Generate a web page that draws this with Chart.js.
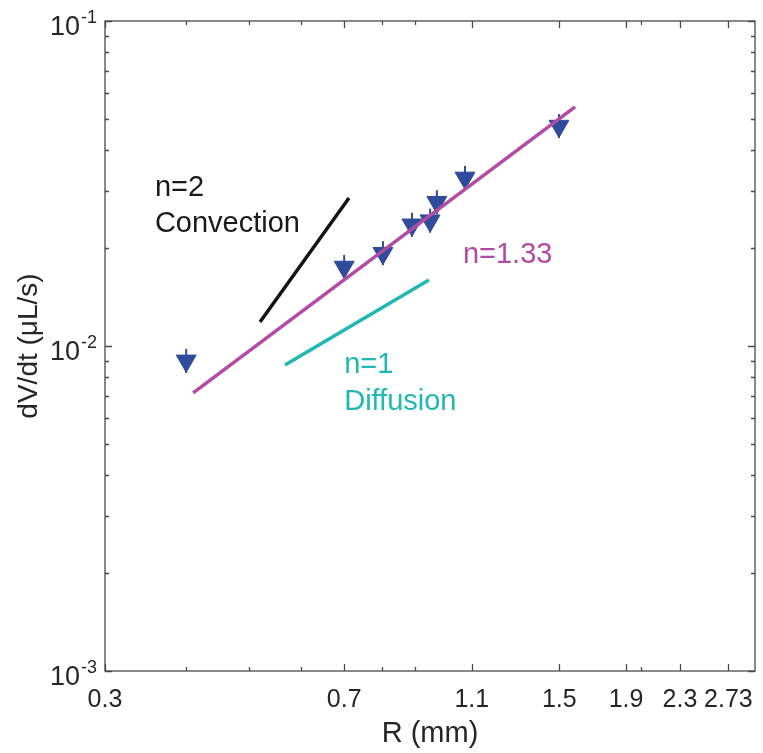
<!DOCTYPE html>
<html>
<head>
<meta charset="utf-8">
<script src="https://cdn.jsdelivr.net/npm/chart.js@4.4.1/dist/chart.umd.min.js"></script>
<style>
  body { margin: 0; background: #fff; }
  #wrap { width: 763px; height: 753px; }
</style>
</head>
<body>
<div id="wrap"><canvas id="myChart" width="763" height="753"></canvas></div>
<script>
// measured points
const radius = [0.40, 0.70, 0.803, 0.89, 0.949, 0.972, 1.074, 1.498]
const rate = [0.0090, 0.0175, 0.0193, 0.0236, 0.0243, 0.0277, 0.0329, 0.0475]

// guide lines
const fitR = [0.41, 1.586]
const fitRate = [0.00717, 0.0544]
const convR = [0.5195, 0.712]
const convRate = [0.01186, 0.02853]
const diffR = [0.5676, 0.945]
const diffRate = [0.00874, 0.01596]

// ticks
const xTickVals = [0.3, 0.7, 1.1, 1.5, 1.9, 2.3, 2.73]
const xTickLabels = ['0.3', '0.7', '1.1', '1.5', '1.9', '2.3', '2.73']
const xMinorTicks = [0.4, 0.5, 0.6, 0.8, 0.9, 2]
const yTickVals = [0.001, 0.01, 0.1]
const yTickExp = ['-3', '-2', '-1']
const yMinorTicks = [0.002, 0.003, 0.004, 0.005, 0.006, 0.007, 0.008, 0.009,
                     0.02, 0.03, 0.04, 0.05, 0.06, 0.07, 0.08, 0.09]

// annotations (anchored in data units)
const notes = [
  { text: 'n=2', x: 0.358, y: 0.02894, color: '#1a1a1a' },
  { text: 'Convection', x: 0.358, y: 0.02243, color: '#1a1a1a' },
  { text: 'n=1.33', x: 1.066, y: 0.0180, color: '#b24ca3' },
  { text: 'n=1', x: 0.70, y: 0.008258, color: '#1fb8b4' },
  { text: 'Diffusion', x: 0.70, y: 0.006354, color: '#1fb8b4' }
]

const FONT = "'Liberation Sans', Arial, Helvetica, sans-serif"
const AXIS = '#262626'
const BLUE = '#2e4b9c'

const toXY = (xs, ys) => xs.map((x, i) => ({ x: x, y: ys[i] }))

const boxPlugin = {
  id: 'box',
  afterDatasetsDraw(chart) {
    const { ctx, chartArea: a, scales: { x, y } } = chart
    ctx.save()
    ctx.strokeStyle = '#4a4a4a'
    ctx.lineWidth = 1.3
    ctx.strokeRect(a.left, a.top, a.right - a.left, a.bottom - a.top)
    // inward ticks, all four sides
    const xt = (v, len) => {
      const p = Math.round(x.getPixelForValue(v)) + 0.5
      ctx.beginPath()
      ctx.moveTo(p, a.bottom); ctx.lineTo(p, a.bottom - len)
      ctx.moveTo(p, a.top); ctx.lineTo(p, a.top + len)
      ctx.stroke()
    }
    const yt = (v, len) => {
      const p = Math.round(y.getPixelForValue(v)) + 0.5
      ctx.beginPath()
      ctx.moveTo(a.left, p); ctx.lineTo(a.left + len, p)
      ctx.moveTo(a.right, p); ctx.lineTo(a.right - len, p)
      ctx.stroke()
    }
    xTickVals.forEach(v => xt(v, 7))
    xMinorTicks.forEach(v => xt(v, 4))
    yTickVals.forEach(v => yt(v, 7))
    yMinorTicks.forEach(v => yt(v, 4))

    // y tick labels 10^k
    ctx.fillStyle = AXIS
    ctx.textBaseline = 'alphabetic'
    yTickVals.forEach((v, i) => {
      const p = y.getPixelForValue(v)
      ctx.font = '27px ' + FONT
      ctx.textAlign = 'right'
      ctx.fillText('10', 80, p + 14)
      ctx.font = '18px ' + FONT
      ctx.textAlign = 'left'
      ctx.fillText(yTickExp[i], 81, p + 2)
    })

    // text notes
    ctx.font = '29px ' + FONT
    ctx.textAlign = 'left'
    notes.forEach(n => {
      ctx.fillStyle = n.color
      ctx.fillText(n.text, x.getPixelForValue(n.x), y.getPixelForValue(n.y))
    })
    ctx.restore()
  }
}

const ctx = document.getElementById('myChart').getContext('2d')
new Chart(ctx, {
  type: 'scatter',
  data: {
    datasets: [
      {
        label: 'n=1.33',
        data: toXY(fitR, fitRate),
        showLine: true,
        borderColor: '#b24ca3',
        borderWidth: 3.5,
        pointRadius: 0,
        order: 1
      },
      {
        label: 'Convection',
        data: toXY(convR, convRate),
        showLine: true,
        borderColor: '#141414',
        borderWidth: 3.5,
        pointRadius: 0,
        order: 2
      },
      {
        label: 'Diffusion',
        data: toXY(diffR, diffRate),
        showLine: true,
        borderColor: '#1fb8b4',
        borderWidth: 3.5,
        pointRadius: 0,
        order: 3
      },
      {
        label: 'data',
        data: toXY(radius, rate),
        pointStyle: 'triangle',
        rotation: 180,
        pointRadius: 11.5,
        backgroundColor: BLUE,
        borderColor: BLUE,
        borderWidth: 1,
        order: 4
      },
      {
        // small error bars behind the markers
        label: 'err',
        data: toXY(radius, rate),
        pointStyle: 'line',
        rotation: 90,
        pointRadius: 12,
        borderColor: BLUE,
        borderWidth: 2,
        order: 5
      }
    ]
  },
  options: {
    responsive: false,
    animation: false,
    events: [],
    layout: { autoPadding: false, padding: { top: 21, right: 8, left: 0, bottom: 0 } },
    plugins: { legend: { display: false }, tooltip: { enabled: false } },
    scales: {
      x: {
        type: 'logarithmic',
        min: 0.3,
        max: 3,
        grid: { display: false },
        border: { display: false },
        afterBuildTicks: scale => { scale.ticks = xTickVals.map(v => ({ value: v })) },
        afterFit: scale => {
          scale.height = 82
          scale.paddingLeft = 0
          scale.paddingRight = 0
        },
        ticks: {
          autoSkip: false,
          maxRotation: 0,
          padding: 6,
          color: AXIS,
          font: { family: FONT, size: 25 },
          callback: (val, i) => xTickLabels[i]
        },
        title: {
          display: true,
          text: 'R (mm)',
          color: AXIS,
          font: { family: FONT, size: 29 },
          padding: { top: 0, bottom: 2 }
        }
      },
      y: {
        type: 'logarithmic',
        min: 0.001,
        max: 0.1,
        grid: { display: false },
        border: { display: false },
        afterBuildTicks: scale => { scale.ticks = yTickVals.map(v => ({ value: v })) },
        afterFit: scale => {
          scale.width = 105
          scale.paddingTop = 0
          scale.paddingBottom = 0
        },
        ticks: { display: false },
        title: {
          display: true,
          text: 'dV/dt (μL/s)',
          color: AXIS,
          font: { family: FONT, size: 28 },
          padding: { top: 12, bottom: 0 }
        }
      }
    }
  },
  plugins: [boxPlugin]
})
</script>
</body>
</html>
